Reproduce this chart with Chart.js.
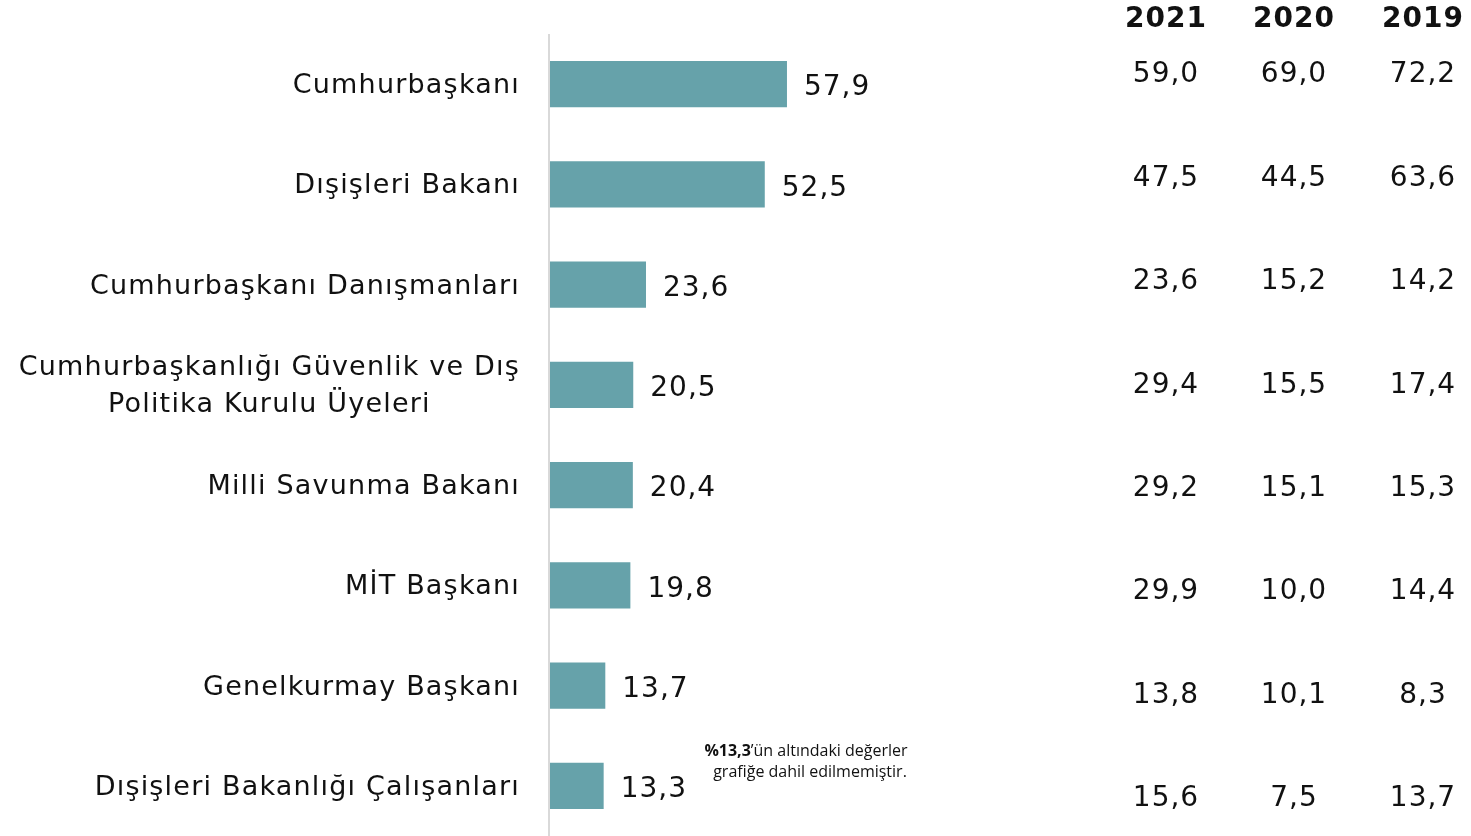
<!DOCTYPE html>
<html>
<head>
<meta charset="utf-8">
<script src="https://cdn.jsdelivr.net/npm/chart.js@4.4.0/dist/chart.umd.min.js"></script>
<style>
  html, body { margin:0; padding:0; background:#fff; }
  #wrap { position:relative; width:1471px; height:836px; }
</style>
</head>
<body>
<div id="wrap"><canvas id="chart"></canvas></div>
<script>
// categories (multi-line labels as arrays)
const categories = [
  'Cumhurbaşkanı',
  'Dışişleri Bakanı',
  'Cumhurbaşkanı Danışmanları',
  ['Cumhurbaşkanlığı Güvenlik ve Dış', 'Politika Kurulu Üyeleri'],
  'Milli Savunma Bakanı',
  'MİT Başkanı',
  'Genelkurmay Başkanı',
  'Dışişleri Bakanlığı Çalışanları'
];
const values2022 = [57.9, 52.5, 23.6, 20.5, 20.4, 19.8, 13.7, 13.3];

// comparison table on the right
const tableYears = ['2021', '2020', '2019'];
const values2021 = [59.0, 47.5, 23.6, 29.4, 29.2, 29.9, 13.8, 15.6];
const values2020 = [69.0, 44.5, 15.2, 15.5, 15.1, 10.0, 10.1, 7.5];
const values2019 = [72.2, 63.6, 14.2, 17.4, 15.3, 14.4, 8.3, 13.7];

const noteBold = '%13,3';
const noteRest = '’ün altındaki değerler';
const noteLine2 = 'grafiğe dahil edilmemiştir.';

const FONT = '"DejaVu Sans", Verdana, sans-serif';
const NOTE_FONT = '"Open Sans", Lato, sans-serif';
const TEXT = '#111';
const fmt = v => v.toFixed(1).replace('.', ',');

// draws category labels, value labels, axis line, table and note
const decor = {
  id: 'decor',
  afterDatasetsDraw(chart){
    const ctx = chart.ctx;
    const area = chart.chartArea;
    const y = chart.scales.y;
    const meta = chart.getDatasetMeta(0);
    ctx.save();

    // vertical axis line
    ctx.strokeStyle = '#d9d9d9';
    ctx.lineWidth = 2;
    ctx.beginPath();
    ctx.moveTo(area.left, area.top);
    ctx.lineTo(area.left, chart.height);
    ctx.stroke();

    // category labels: right edge at fixed x, multi-line centered in block
    ctx.fillStyle = TEXT;
    ctx.font = '27px ' + FONT;
    ctx.letterSpacing = '1.2px';
    ctx.textBaseline = 'middle';
    const rightEdge = area.left - 29;
    categories.forEach((lab, i) => {
      const lines = Array.isArray(lab) ? lab : [lab];
      const cy = y.getPixelForValue(i) + 2;
      const w = Math.max(...lines.map(l => ctx.measureText(l).width));
      const lh = 37;
      lines.forEach((l, k) => {
        const ly = cy + (k - (lines.length - 1) / 2) * lh;
        ctx.textAlign = 'center';
        ctx.fillText(l, rightEdge - w / 2, ly);
      });
    });

    // value labels
    ctx.font = '28px ' + FONT;
    ctx.letterSpacing = '1px';
    ctx.textAlign = 'left';
    meta.data.forEach((bar, i) => {
      ctx.fillText(fmt(values2022[i]), bar.x + 17, bar.y + 4);
    });

    // table on the right
    const colX = [1166, 1294, 1423];
    ctx.textAlign = 'center';
    ctx.font = 'bold 28px ' + FONT;
    tableYears.forEach((yr, c) => ctx.fillText(yr, colX[c], 20));
    ctx.font = '28px ' + FONT;
    const cols = [values2021, values2020, values2019];
    const rowTop = 75, rowBottom = 799;
    const step = (rowBottom - rowTop) / (categories.length - 1);
    cols.forEach((col, c) => {
      col.forEach((v, i) => ctx.fillText(fmt(v), colX[c], rowTop + i * step));
    });

    // note
    ctx.letterSpacing = '0px';
    ctx.font = 'bold 16px ' + NOTE_FONT;
    const bw = ctx.measureText(noteBold).width;
    ctx.font = '16px ' + NOTE_FONT;
    const rw = ctx.measureText(noteRest).width;
    const nx = 806 - (bw + rw) / 2;
    ctx.textAlign = 'left';
    ctx.font = 'bold 16px ' + NOTE_FONT;
    ctx.fillText(noteBold, nx, 751);
    ctx.font = '16px ' + NOTE_FONT;
    ctx.fillText(noteRest, nx + bw, 751);
    ctx.textAlign = 'center';
    ctx.fillText(noteLine2, 810, 772);

    ctx.restore();
  }
};

new Chart(document.getElementById('chart'), {
  type: 'bar',
  data: {
    labels: categories,
    datasets: [{
      data: values2022,
      backgroundColor: '#66a2aa',
      borderWidth: 0,
      barPercentage: 0.46,
      categoryPercentage: 1.0
    }]
  },
  options: {
    indexAxis: 'y',
    responsive: true,
    maintainAspectRatio: false,
    animation: false,
    layout: { padding: { left: 549, right: 511, top: 34, bottom: 0 } },
    scales: {
      x: { display: false, min: 0, max: 100 },
      y: { display: false }
    },
    plugins: { legend: { display: false }, tooltip: { enabled: false } }
  },
  plugins: [decor]
});
</script>
</body>
</html>
